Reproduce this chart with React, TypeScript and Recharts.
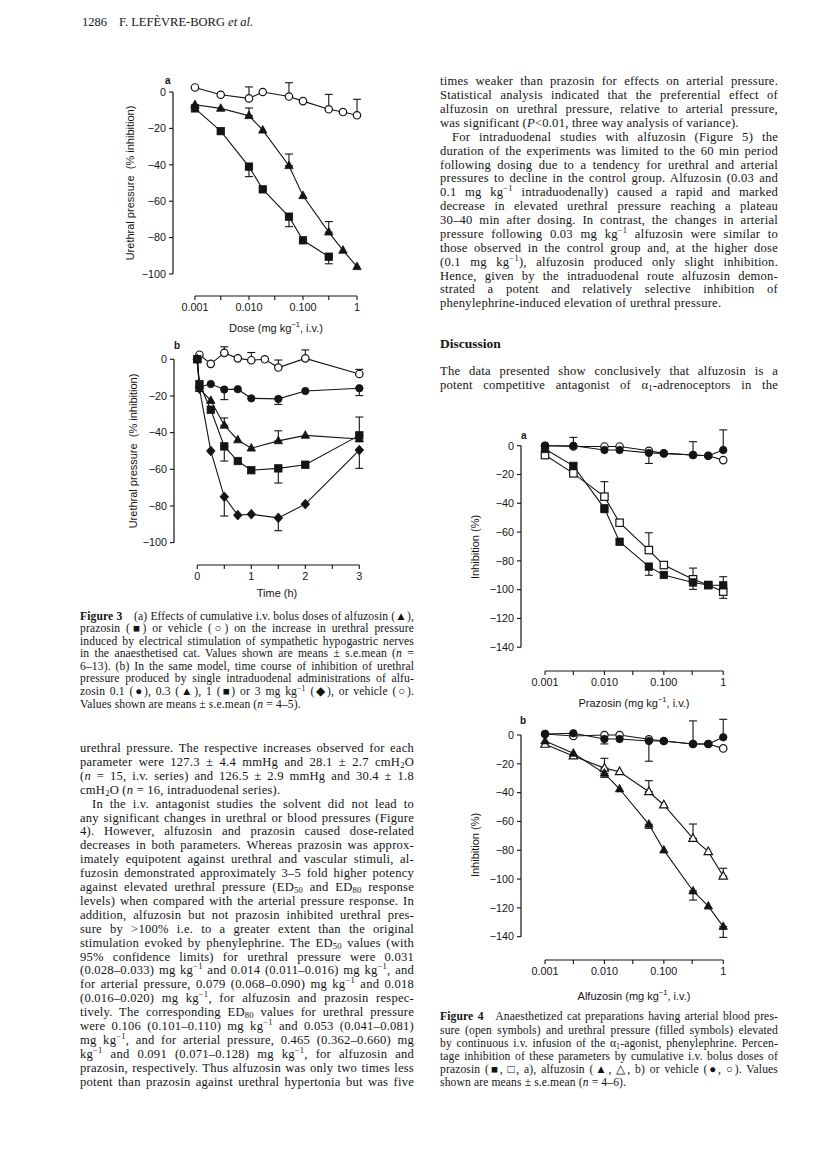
import React from 'react';
import { LineChart, Line, XAxis, YAxis, ErrorBar, ReferenceLine } from 'recharts';

// ---------- Figure 3a: cumulative i.v. doses (mg kg-1) ----------
const DOSES_3A = [0.001, 0.003, 0.01, 0.018, 0.055, 0.1, 0.3, 0.55, 1];
const PRAZ_DOSES_3A = [0.001, 0.003, 0.01, 0.018, 0.055, 0.1, 0.3];
const VEHICLE_3A = [2.5, -1.5, -3.5, 0, -2.5, -5, -9.5, -11, -12.8];
const VEHICLE_3A_SEM = [0, 0, 6.3, 0, 7.6, 0, 8.2, 0, 8.8]; // + drawn up, - drawn down
const ALFU_3A = [-7, -9, -13, -21, -40.5, -57, -77, -87, -96];
const ALFU_3A_SEM = [0, 0, 4.2, 0, 6.4, 0, 5.8, 0, 0];
const PRAZ_3A = [-9, -21.5, -41, -53.5, -68.5, -81.5, -90.5];
const PRAZ_3A_SEM = [0, 0, -5.5, 0, -5.5, 0, -3.9];

// ---------- Figure 3b: time course (h) ----------
const TIMES_3B = [0, 0.04, 0.25, 0.5, 0.75, 1, 1.5, 2, 3];
const VEHICLE_TIMES_3B = [0, 0.04, 0.25, 0.5, 0.75, 1, 1.25, 1.5, 2, 3];
const VEHICLE_3B = [0, 2.5, -2.5, 3.5, 0.5, -0.5, 0, -4.5, 0.5, -8];
const VEHICLE_3B_SEM = [0, 0, 0, 3.3, 0, 4.2, 0, 4.1, 4.6, 2.5];
const ALFU01_3B = [0, -15, -13.5, -16.5, -16.3, -21.3, -21.6, -17.3, -15.8];
const ALFU01_3B_SEM = [0, 0, 0, -5.5, 0, 0, -3, 0, -4];
const ALFU03_3B = [0, -16, -22.5, -36, -44, -48.5, -44.5, -41.5, -43.5];
const ALFU03_3B_SEM = [0, 0, 0, 4, 0, 0, 5.5, 0, 0];
const ALFU1_3B = [0, -13.5, -27.5, -47.5, -55.5, -60.5, -59.5, -57.5, -41.5];
const ALFU1_3B_SEM = [0, 0, 0, -8, 0, 0, -8, 0, 10];
const ALFU3_3B = [0, -16, -50, -75, -85, -84.5, -86.5, -79, -49.5];
const ALFU3_3B_SEM = [0, 0, 0, -10.5, 0, 0, -7, 0, -10];

// ---------- Figure 4: cumulative i.v. doses (mg kg-1) ----------
const DOSES_4 = [0.001, 0.003, 0.01, 0.018, 0.056, 0.1, 0.31, 0.56, 1];
const VEH_URE_4A = [0, 0, -3, -3, -5, -5.3, -6.5, -7, -3];
const VEH_URE_4A_SEM = [0, 5.8, 0, 0, -7.3, 0, 9.3, 0, 14];
const VEH_ART_4A = [0, -0.5, -0.5, -0.5, -3.5, -5.3, -6.5, -7, -10];
const PRAZ_URE_4A = [-2.3, -14, -43.5, -66.7, -84, -89.8, -95, -96.8, -97];
const PRAZ_URE_4A_SEM = [0, 0, -3, 0, -6, 0, -4.8, 0, 6];
const PRAZ_ART_4A = [-6.5, -19.2, -35.4, -53.5, -72.5, -82.9, -92.8, -96.8, -101.4];
const PRAZ_ART_4A_SEM = [0, 0, 10.4, 0, 12, 0, 7.8, 0, -4.6];

const VEH_URE_4B = [0.7, 1.2, -2.8, -2.8, -4.2, -4.2, -6.2, -6.2, -1.6];
const VEH_URE_4B_SEM = [0, 0, -3.4, 0, -14, 0, 16, 0, 12.5];
const VEH_ART_4B = [0.7, -0.7, 0, 0, -3, -4.2, -6.2, -6.2, -9.3];
const ALFU_URE_4B = [-4.2, -12.7, -26.6, -37.5, -62, -79.9, -108.3, -118.8, -133];
const ALFU_URE_4B_SEM = [0, 0, -2.8, 0, -2.8, 0, -6.3, 0, -7.5];
const ALFU_ART_4B = [-6.5, -14.6, -23, -25.5, -39.4, -48.6, -71.8, -81, -98];
const ALFU_ART_4B_SEM = [0, 0, 6.8, 0, 7.7, 0, 10, 0, 5.5];

// ---------- axes ----------
const DOSE_TICKS = [0.001, 0.003, 0.01, 0.03, 0.1, 0.3, 1];
const DOSE_TICK_LABELS = ['0.001', '', '0.010', '', '0.100', '', '1'];
const TIME_TICKS = [0, 0.5, 1, 1.5, 2, 2.5, 3];
const TIME_TICK_LABELS = ['0', '', '1', '', '2', '', '3'];
const Y_TICKS_3 = [0, -20, -40, -60, -80, -100];
const Y_TICKS_4 = [0, -20, -40, -60, -80, -100, -120, -140];

const INK = '#141414';
const SANS = '"Liberation Sans", Arial, Helvetica, sans-serif';
const SERIF = '"Liberation Serif", "Times New Roman", serif';

type Pt = { x: number; y: number; err?: [number, number] };
type Mark = 'openCircle' | 'circle' | 'triangle' | 'openTriangle' | 'square' | 'openSquare' | 'diamond';

const build = (xs: number[], ys: number[], sem?: number[]): Pt[] =>
  xs.map((x, i) => {
    const s = sem ? sem[i] : 0;
    const p: Pt = { x, y: ys[i] };
    if (s > 0) p.err = [0, s];
    else if (s < 0) p.err = [-s, 0];
    return p;
  });

const marker = (kind: Mark) => (props: any) => {
  const { cx, cy, index } = props;
  if (cx == null || cy == null) return <g key={index} />;
  const open = kind.startsWith('open');
  const fill = open ? '#fff' : INK;
  const common = { fill, stroke: INK, strokeWidth: open ? 1.2 : 0.8 };
  if (kind === 'openCircle' || kind === 'circle')
    return <circle key={index} cx={cx} cy={cy} r={3.7} {...common} />;
  if (kind === 'square' || kind === 'openSquare')
    return <rect key={index} x={cx - 3.7} y={cy - 3.7} width={7.4} height={7.4} {...common} />;
  if (kind === 'diamond')
    return <polygon key={index} points={`${cx},${cy - 4.9} ${cx + 4.3},${cy} ${cx},${cy + 4.9} ${cx - 4.3},${cy}`} {...common} />;
  return <polygon key={index} points={`${cx},${cy - 4.7} ${cx + 4.2},${cy + 2.9} ${cx - 4.2},${cy + 2.9}`} {...common} />;
};

interface Series { data: Pt[]; mark: Mark }
interface Title { pre: string; sup?: string; post?: string }

interface PanelProps {
  left: number; top: number; width: number; height: number;
  yAxisWidth: number; marginTop: number; marginRight: number;
  logX: boolean;
  xDomain: [number, number]; yDomain: [number, number];
  xTicks: number[]; xTickLabels: string[]; yTicks: number[];
  xSpan: [number, number]; ySpan: [number, number];
  series: Series[];
  xTitle: Title; xTitleAt: [number, number];
  yTitle: string; yTitleAt: [number, number];
}

const Panel: React.FC<PanelProps> = (p) => {
  const tickStyle = { fontSize: 10.8, fill: INK, fontFamily: SANS };
  const xTitleFn = () => (
    <text x={p.xTitleAt[0]} y={p.xTitleAt[1]} textAnchor="middle" dominantBaseline="central"
      fontSize={11} fontFamily={SANS} fill={INK}>
      <tspan>{p.xTitle.pre}</tspan>
      {p.xTitle.sup && <tspan dy={-4} fontSize={7.5}>{p.xTitle.sup}</tspan>}
      {p.xTitle.post && <tspan dy={p.xTitle.sup ? 4 : 0}>{p.xTitle.post}</tspan>}
    </text>
  );
  const yTitleFn = () => {
    const [x, y] = p.yTitleAt;
    return (
      <text x={x} y={y} transform={`rotate(-90 ${x} ${y})`} textAnchor="middle" dominantBaseline="central"
        fontSize={11} fontFamily={SANS} fill={INK} style={{ whiteSpace: 'pre' }}>
        {p.yTitle}
      </text>
    );
  };
  return (
    <div style={{ position: 'absolute', left: p.left, top: p.top }}>
      <LineChart width={p.width} height={p.height}
        margin={{ top: p.marginTop, right: p.marginRight, bottom: 0, left: 0 }}>
        <XAxis type="number" dataKey="x" scale={p.logX ? 'log' : 'linear'} domain={p.xDomain}
          allowDataOverflow ticks={p.xTicks} interval={0}
          tickFormatter={(v: number) => p.xTickLabels[p.xTicks.indexOf(v)] ?? ''}
          axisLine={false} tickLine={{ stroke: INK, strokeWidth: 1.1 }} tickSize={4} tickMargin={3}
          height={45} tick={tickStyle} label={xTitleFn} />
        <YAxis type="number" domain={p.yDomain} allowDataOverflow ticks={p.yTicks} interval={0}
          tickFormatter={(v: number) => (v < 0 ? '\u2212' + Math.abs(v) : String(v))}
          axisLine={false} tickLine={{ stroke: INK, strokeWidth: 1.1 }} tickSize={4} tickMargin={3}
          width={p.yAxisWidth} tick={tickStyle} label={yTitleFn} />
        <ReferenceLine ifOverflow="visible" stroke={INK} strokeWidth={1.2}
          segment={[{ x: p.xDomain[0], y: p.ySpan[0] }, { x: p.xDomain[0], y: p.ySpan[1] }]} />
        <ReferenceLine ifOverflow="visible" stroke={INK} strokeWidth={1.2}
          segment={[{ x: p.xSpan[0], y: p.yDomain[0] }, { x: p.xSpan[1], y: p.yDomain[0] }]} />
        {p.series.map((s, i) => (
          <Line key={i} data={s.data} dataKey="y" type="linear" stroke={INK} strokeWidth={1.1}
            dot={marker(s.mark)} activeDot={false} isAnimationActive={false}>
            {s.data.some((d) => d.err) && (
              <ErrorBar dataKey="err" direction="y" width={4} stroke={INK} strokeWidth={1.1} />
            )}
          </Line>
        ))}
      </LineChart>
    </div>
  );
};

// ---------- page text ----------
// ^..^ superscript, ~..~ subscript, _.._ italic, *..* bold; leading » = indent, trailing ¶ = paragraph end
const RIGHT_TOP = [
  'times weaker than prazosin for effects on arterial pressure.',
  'Statistical analysis indicated that the preferential effect of',
  'alfuzosin on urethral pressure, relative to arterial pressure,',
  'was significant (_P_<0.01, three way analysis of variance).¶',
  '»For intraduodenal studies with alfuzosin (Figure 5) the',
  'duration of the experiments was limited to the 60 min period',
  'following dosing due to a tendency for urethral and arterial',
  'pressures to decline in the control group. Alfuzosin (0.03 and',
  '0.1 mg kg^\u22121^ intraduodenally) caused a rapid and marked',
  'decrease in elevated urethral pressure reaching a plateau',
  '30\u201340 min after dosing. In contrast, the changes in arterial',
  'pressure following 0.03 mg kg^\u22121^ alfuzosin were similar to',
  'those observed in the control group and, at the higher dose',
  '(0.1 mg kg^\u22121^), alfuzosin produced only slight inhibition.',
  'Hence, given by the intraduodenal route alfuzosin demon-',
  'strated a potent and relatively selective inhibition of',
  'phenylephrine-induced elevation of urethral pressure.¶',
];
const RIGHT_DISCUSSION = [
  'The data presented show conclusively that alfuzosin is a',
  'potent competitive antagonist of \u03b1~1~-adrenoceptors in the',
];
const FIG3_CAPTION = [
  '*Figure 3*\u2003(a) Effects of cumulative i.v. bolus doses of alfuzosin (\u25b2),',
  'prazosin (\u25a0) or vehicle (\u25cb) on the increase in urethral pressure',
  'induced by electrical stimulation of sympathetic hypogastric nerves',
  'in the anaesthetised cat. Values shown are means \u00b1 s.e.mean (_n_ =',
  '6\u201313). (b) In the same model, time course of inhibition of urethral',
  'pressure produced by single intraduodenal administrations of alfu-',
  'zosin 0.1 (\u25cf), 0.3 (\u25b2), 1 (\u25a0) or 3 mg kg^\u22121^ (\u25c6), or vehicle (\u25cb).',
  'Values shown are means \u00b1 s.e.mean (_n_ = 4\u20135).¶',
];
const LEFT_BODY = [
  'urethral pressure. The respective increases observed for each',
  'parameter were 127.3 \u00b1 4.4 mmHg and 28.1 \u00b1 2.7 cmH~2~O',
  '(_n_ = 15, i.v. series) and 126.5 \u00b1 2.9 mmHg and 30.4 \u00b1 1.8',
  'cmH~2~O (_n_ = 16, intraduodenal series).¶',
  '»In the i.v. antagonist studies the solvent did not lead to',
  'any significant changes in urethral or blood pressures (Figure',
  '4). However, alfuzosin and prazosin caused dose-related',
  'decreases in both parameters. Whereas prazosin was approx-',
  'imately equipotent against urethral and vascular stimuli, al-',
  'fuzosin demonstrated approximately 3\u20135 fold higher potency',
  'against elevated urethral pressure (ED~50~ and ED~80~ response',
  'levels) when compared with the arterial pressure response. In',
  'addition, alfuzosin but not prazosin inhibited urethral pres-',
  'sure by >100% i.e. to a greater extent than the original',
  'stimulation evoked by phenylephrine. The ED~50~ values (with',
  '95% confidence limits) for urethral pressure were 0.031',
  '(0.028\u20130.033) mg kg^\u22121^ and 0.014 (0.011\u20130.016) mg kg^\u22121^, and',
  'for arterial pressure, 0.079 (0.068\u20130.090) mg kg^\u22121^ and 0.018',
  '(0.016\u20130.020) mg kg^\u22121^, for alfuzosin and prazosin respec-',
  'tively. The corresponding ED~80~ values for urethral pressure',
  'were 0.106 (0.101\u20130.110) mg kg^\u22121^ and 0.053 (0.041\u20130.081)',
  'mg kg^\u22121^, and for arterial pressure, 0.465 (0.362\u20130.660) mg',
  'kg^\u22121^ and 0.091 (0.071\u20130.128) mg kg^\u22121^, for alfuzosin and',
  'prazosin, respectively. Thus alfuzosin was only two times less',
  'potent than prazosin against urethral hypertonia but was five',
];
const FIG4_CAPTION = [
  '*Figure 4*\u2003Anaesthetized cat preparations having arterial blood pres-',
  'sure (open symbols) and urethral pressure (filled symbols) elevated',
  'by continuous i.v. infusion of the \u03b1~1~-agonist, phenylephrine. Percen-',
  'tage inhibition of these parameters by cumulative i.v. bolus doses of',
  'prazosin (\u25a0, \u25a1, a), alfuzosin (\u25b2, \u25b3, b) or vehicle (\u25cf, \u25cb). Values',
  'shown are means \u00b1 s.e.mean (_n_ = 4\u20136).¶',
];

const rich = (s: string) =>
  s.split(/(\^[^^]*\^|~[^~]*~|_[^_]*_|\*[^*]*\*)/).map((part, i) => {
    if (part.length > 1) {
      const a = part[0];
      const inner = part.slice(1, -1);
      if (a === '^' && part.endsWith('^'))
        return <span key={i} style={{ fontSize: '0.68em', verticalAlign: '0.55em', lineHeight: 0 }}>{inner}</span>;
      if (a === '~' && part.endsWith('~'))
        return <span key={i} style={{ fontSize: '0.68em', verticalAlign: '-0.25em', lineHeight: 0 }}>{inner}</span>;
      if (a === '_' && part.endsWith('_')) return <i key={i}>{inner}</i>;
      if (a === '*' && part.endsWith('*')) return <b key={i}>{inner}</b>;
    }
    return <React.Fragment key={i}>{part}</React.Fragment>;
  });

interface BlockProps {
  lines: string[]; left: number; width: number; firstCenter: number; pitch: number; size: number; tracking: number;
}

const TextBlock: React.FC<BlockProps> = ({ lines, left, width, firstCenter, pitch, size, tracking }) => (
  <>
    {lines.map((raw, i) => {
      const indent = raw.startsWith('»');
      const last = raw.endsWith('¶');
      const s = raw.replace(/^»/, '').replace(/¶$/, '');
      return (
        <div key={i} style={{
          position: 'absolute', left, width, top: firstCenter + i * pitch - pitch / 2 - 1,
          height: pitch, lineHeight: `${pitch}px`, fontSize: size, fontFamily: SERIF, color: INK,
          letterSpacing: tracking, whiteSpace: 'nowrap',
          textAlign: last ? 'left' : 'justify', textAlignLast: last ? 'left' : 'justify',
          textIndent: indent ? 12 : 0, boxSizing: 'border-box',
        }}>
          {rich(s)}
        </div>
      );
    })}
  </>
);

const PanelLetter: React.FC<{ x: number; y: number; t: string }> = ({ x, y, t }) => (
  <div style={{ position: 'absolute', left: x - 3, top: y - 7, fontFamily: SANS, fontWeight: 700, fontSize: 10, color: INK }}>{t}</div>
);

export default function App() {
  return (
    <div style={{ position: 'absolute', left: 0, top: 0, width: 816, height: 1171, background: '#fff', overflow: 'hidden' }}>
      {/* running head */}
      <div style={{ position: 'absolute', left: 82, top: 15, fontFamily: SERIF, fontSize: 12.5, color: INK, whiteSpace: 'nowrap' }}>
        1286<span style={{ display: 'inline-block', width: 12 }} />F. LEF{'\u00c8'}VRE-BORG <i>et al.</i>
      </div>

      {/* Figure 3a */}
      <Panel left={80} top={70} width={292} height={271} yAxisWidth={93} marginTop={12} marginRight={10}
        logX xDomain={[0.000392, 1.238]} yDomain={[-112.1, 5.5]}
        xTicks={DOSE_TICKS} xTickLabels={DOSE_TICK_LABELS} yTicks={Y_TICKS_3}
        xSpan={[0.001, 1]} ySpan={[-100, 0]}
        series={[
          { data: build(DOSES_3A, VEHICLE_3A, VEHICLE_3A_SEM), mark: 'openCircle' },
          { data: build(DOSES_3A, ALFU_3A, ALFU_3A_SEM), mark: 'triangle' },
          { data: build(PRAZ_DOSES_3A, PRAZ_3A, PRAZ_3A_SEM), mark: 'square' },
        ]}
        xTitle={{ pre: 'Dose (mg kg', sup: '\u22121', post: ', i.v.)' }} xTitleAt={[196, 258]}
        yTitle={'Urethral pressure  (% inhibition)'} yTitleAt={[50, 113]} />
      <PanelLetter x={168} y={82} t="a" />

      {/* Figure 3b */}
      <Panel left={80} top={335} width={295} height={275} yAxisWidth={94} marginTop={12} marginRight={10}
        logX={false} xDomain={[-0.431, 3.105]} yDomain={[-112.2, 6.7]}
        xTicks={TIME_TICKS} xTickLabels={TIME_TICK_LABELS} yTicks={Y_TICKS_3}
        xSpan={[0, 3]} ySpan={[-100, 0]}
        series={[
          { data: build(VEHICLE_TIMES_3B, VEHICLE_3B, VEHICLE_3B_SEM), mark: 'openCircle' },
          { data: build(TIMES_3B, ALFU01_3B, ALFU01_3B_SEM), mark: 'circle' },
          { data: build(TIMES_3B, ALFU03_3B, ALFU03_3B_SEM), mark: 'triangle' },
          { data: build(TIMES_3B, ALFU1_3B, ALFU1_3B_SEM), mark: 'square' },
          { data: build(TIMES_3B, ALFU3_3B, ALFU3_3B_SEM), mark: 'diamond' },
        ]}
        xTitle={{ pre: 'Time (h)' }} xTitleAt={[197, 258]}
        yTitle={'Urethral pressure  (% inhibition)'} yTitleAt={[53, 116]} />
      <PanelLetter x={177} y={347} t="b" />

      {/* Figure 4a */}
      <Panel left={440} top={420} width={298} height={296} yAxisWidth={81} marginTop={8} marginRight={8}
        logX xDomain={[0.000394, 1.3]} yDomain={[-156.5, 12.3]}
        xTicks={DOSE_TICKS} xTickLabels={DOSE_TICK_LABELS} yTicks={Y_TICKS_4}
        xSpan={[0.001, 1]} ySpan={[-140, 0]}
        series={[
          { data: build(DOSES_4, PRAZ_ART_4A, PRAZ_ART_4A_SEM), mark: 'openSquare' },
          { data: build(DOSES_4, PRAZ_URE_4A, PRAZ_URE_4A_SEM), mark: 'square' },
          { data: build(DOSES_4, VEH_ART_4A), mark: 'openCircle' },
          { data: build(DOSES_4, VEH_URE_4A, VEH_URE_4A_SEM), mark: 'circle' },
        ]}
        xTitle={{ pre: 'Prazosin (mg kg', sup: '\u22121', post: ', i.v.)' }} xTitleAt={[194, 283]}
        yTitle={'Inhibition (%)'} yTitleAt={[35, 127]} />
      <PanelLetter x={524} y={437} t="a" />

      {/* Figure 4b */}
      <Panel left={440} top={710} width={298} height={295} yAxisWidth={81} marginTop={8} marginRight={8}
        logX xDomain={[0.000394, 1.3]} yDomain={[-156.2, 11.8]}
        xTicks={DOSE_TICKS} xTickLabels={DOSE_TICK_LABELS} yTicks={Y_TICKS_4}
        xSpan={[0.001, 1]} ySpan={[-140, 0]}
        series={[
          { data: build(DOSES_4, ALFU_ART_4B, ALFU_ART_4B_SEM), mark: 'openTriangle' },
          { data: build(DOSES_4, ALFU_URE_4B, ALFU_URE_4B_SEM), mark: 'triangle' },
          { data: build(DOSES_4, VEH_ART_4B), mark: 'openCircle' },
          { data: build(DOSES_4, VEH_URE_4B, VEH_URE_4B_SEM), mark: 'circle' },
        ]}
        xTitle={{ pre: 'Alfuzosin (mg kg', sup: '\u22121', post: ', i.v.)' }} xTitleAt={[194, 286]}
        yTitle={'Inhibition (%)'} yTitleAt={[35, 135]} />
      <PanelLetter x={523} y={722} t="b" />

      {/* text */}
      <TextBlock lines={FIG3_CAPTION} left={80} width={334} firstCenter={618} pitch={12.55} size={11.6} tracking={0.12} />
      <TextBlock lines={LEFT_BODY} left={80} width={334} firstCenter={750} pitch={13.9} size={12.6} tracking={0.22} />
      <TextBlock lines={RIGHT_TOP} left={440} width={338} firstCenter={83.3} pitch={13.87} size={12.6} tracking={0.22} />
      <div style={{ position: 'absolute', left: 440, top: 336, fontFamily: SERIF, fontWeight: 700, fontSize: 13.5, color: INK }}>
        Discussion
      </div>
      <TextBlock lines={RIGHT_DISCUSSION} left={440} width={338} firstCenter={373} pitch={13.9} size={12.6} tracking={0.22} />
      <TextBlock lines={FIG4_CAPTION} left={440} width={338} firstCenter={1018} pitch={13.1} size={11.6} tracking={0.12} />
    </div>
  );
}
